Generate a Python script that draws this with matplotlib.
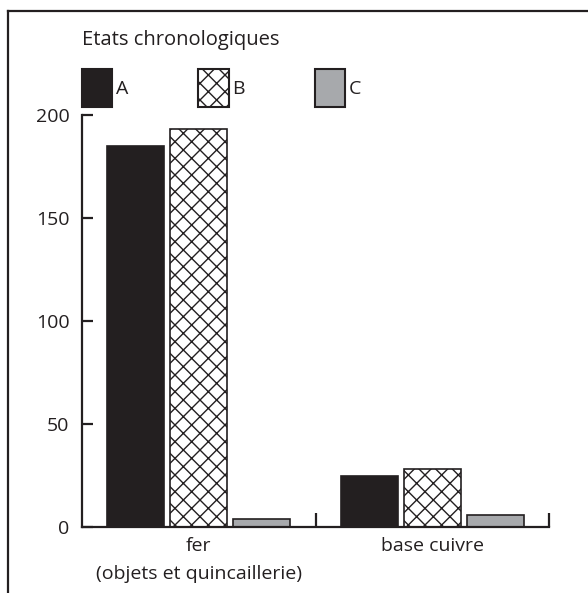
import matplotlib
matplotlib.use('Agg')
import matplotlib.pyplot as plt
from matplotlib.patches import Patch
from matplotlib.lines import Line2D
import numpy as np

plt.rcParams['font.family'] = ['Open Sans', 'DejaVu Sans']
plt.rcParams['hatch.linewidth'] = 1.0
plt.rcParams['hatch.color'] = '#231f20'

categories = ['fer\n(objets et quincaillerie)', 'base cuivre']
series = ['A', 'B', 'C']
values_A = [185, 25]
values_B = [193, 28]
values_C = [4, 6]
yticks = [0, 50, 100, 150, 200]

INK = '#231f20'
colors = {'A': INK, 'B': 'white', 'C': '#a7a9ac'}
hatches = {'A': None, 'B': 'xx', 'C': None}

fig = plt.figure(figsize=(5.88, 5.93), dpi=100)
ax = fig.add_axes([82/588, 1 - 527/593, (549 - 82)/588, (527 - 115)/593])

x = np.arange(len(categories))
width = 0.245
step = 0.27
for k, (name, vals) in enumerate(zip(series, [values_A, values_B, values_C])):
    ax.bar(x + (k - 1) * step, vals, width, color=colors[name], hatch=hatches[name],
           edgecolor=INK, linewidth=1.2, zorder=2)

ax.set_xlim(-0.5, 1.5)
ax.set_ylim(0, 200)
for s in ['top', 'right']:
    ax.spines[s].set_visible(False)
for s in ['left', 'bottom']:
    ax.spines[s].set_color(INK)
    ax.spines[s].set_linewidth(1.6)
    ax.spines[s].set_zorder(3)

ax.set_yticks(yticks)
ax.tick_params(axis='y', direction='in', length=8, width=1.6, color=INK,
               labelsize=14, labelcolor=INK, pad=9)
ax.set_xticks([0.5, 1.5])
ax.set_xticklabels([])
ax.tick_params(axis='x', which='major', direction='in', length=10, width=1.6, color=INK)
ax.set_xticks(x, minor=True)
ax.set_xticklabels(categories, minor=True)
ax.tick_params(axis='x', which='minor', length=0, labelsize=14, labelcolor=INK, pad=7)
plt.setp(ax.get_xminorticklabels(), linespacing=1.7, va='top')

# legend title drawn on its own, entries below
fig.text(82/588, 1 - 40/593, 'Etats chronologiques', fontsize=14.5, color=INK, va='center')
handles = [Patch(facecolor=colors[n], edgecolor=INK, hatch=hatches[n], linewidth=1.5) for n in series]
leg = fig.legend(handles, series, ncol=3, loc='upper left',
                 bbox_to_anchor=(82/588, 1 - 69/593), frameon=False,
                 borderpad=0, borderaxespad=0,
                 fontsize=14, handlelength=1.55, handleheight=2.65, handletextpad=0.2,
                 columnspacing=3.6, labelcolor=INK)

# frame lines (top and left)
fig.add_artist(Line2D([8/588, 1], [1 - 11/593, 1 - 11/593], color=INK, linewidth=1.6))
fig.add_artist(Line2D([8/588, 8/588], [0, 1 - 11/593], color=INK, linewidth=1.6))

fig.savefig('out.png', dpi=100)
